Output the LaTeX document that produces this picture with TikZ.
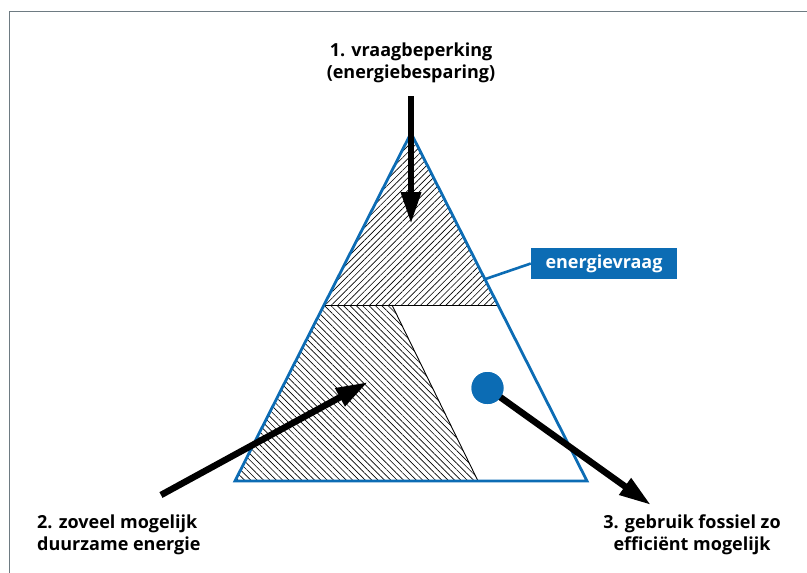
\documentclass[tikz,border=0pt]{standalone}
\usepackage{fontspec}
\setmainfont{Open Sans}
\usetikzlibrary{arrows.meta, patterns.meta}
\definecolor{cblue}{HTML}{0C6CB4}
\definecolor{cframe}{HTML}{6E7B82}
\tikzset{
  every picture/.style={x=1pt, y=-1pt},
  label/.style={font=\fontsize{18}{21.5}\selectfont\bfseries, align=#1, inner sep=0pt},
  label/.default=center,
  thick arrow/.style={line width=6.5pt, -{Triangle[length=32pt, width=19pt]}},
  hatch/.style={pattern={Lines[angle=#1, distance=4.5pt, line width=0.65pt]}, pattern color=black},
  edge line/.style={draw=cblue, line width=2.8pt},
  tag/.style={fill=cblue, text=white, font=\fontsize{18}{20}\selectfont\bfseries, minimum width=146pt, minimum height=31pt, inner sep=0pt},
}
\begin{document}
\begin{tikzpicture}
  \useasboundingbox (0,0) rectangle (807,573);
  % frame
  \draw[cframe, line width=1.6pt] (9.5,573) -- (9.5,11.5) -- (807,11.5);

  % triangle corners and split points
  \coordinate (apex) at (411,133);
  \coordinate (bl) at (235,481);
  \coordinate (br) at (587,481);
  \coordinate (ml) at (324,305);
  \coordinate (mr) at (498,305);
  \coordinate (cut) at (392,305);
  \coordinate (cutb) at (478,481);

  % hatched areas
  \fill[hatch=45] (apex) -- (ml) -- (mr) -- cycle;
  \fill[hatch=-45] (ml) -- (cut) -- (cutb) -- (bl) -- cycle;
  \draw[line width=0.9pt] (ml) -- (mr);
  \draw[line width=0.9pt] (cut) -- (cutb);
  \draw[edge line, line join=miter] (apex) -- (bl) -- (br) -- cycle;

  % energievraag tag
  \node[tag] (vraag) at (604,263.5) {energievraag};
  \coordinate (onedge) at (485.5,279);
  \draw[cblue, line width=2.6pt] (onedge) -- (vraag.west);

  % labels (base = last line)
  \node[label, anchor=base] (l1) at (411,78) {1. vraagbeperking\\(energiebesparing)};
  \node[label=left, anchor=base west] (l2) at (37,550) {2. zoveel mogelijk\\duurzame energie};
  \node[label, anchor=base] (l3) at (692,550) {3. gebruik fossiel zo\\effici\"ent mogelijk};

  % arrows
  \coordinate (a1s) at (411,96);
  \coordinate (a1e) at (411,224);
  \draw[thick arrow] (a1s) -- (a1e);
  \coordinate (a2s) at (161,495);
  \coordinate (a2e) at (368,382);
  \draw[thick arrow] (a2s) -- (a2e);
  \node[circle, fill=cblue, minimum size=32pt, inner sep=0pt] (dot) at (487.5,388) {};
  \coordinate (a3e) at (651,505);
  \draw[thick arrow] (dot.center) -- (a3e);
  \fill[cblue] (dot) circle (16pt);
\end{tikzpicture}
\end{document}
